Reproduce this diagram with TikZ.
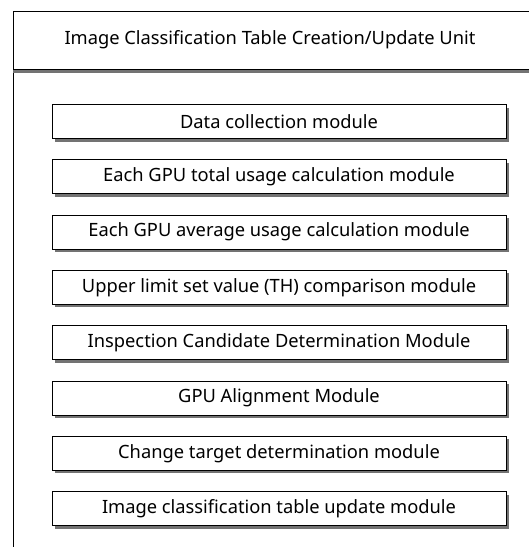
\documentclass[tikz,border=0pt]{standalone}
\usepackage{fontspec}
\setmainfont{Noto Sans}
\usetikzlibrary{positioning}
\begin{document}
\begin{tikzpicture}[x=1pt,y=-1pt,node distance =20.4pt]
  \tikzstyle{every node}=[font=\fontsize{18.3}{21}\selectfont]
  \tikzstyle{frame}=[draw,line width=1pt]
  \tikzstyle{module}=[draw,line width=0.9pt,fill=white,minimum width=454pt,minimum height=34pt,inner sep=0pt,
                      preaction={fill=black!55,transform canvas={shift={(3pt,-3pt)}}}]
  \useasboundingbox (0,0) rectangle (529,547);
  \clip (0,0) rectangle (529,547);
  \draw[frame] (13,11) rectangle (545,560);
  \fill[black!55] (13,69) rectangle (545,72.5);
  \draw[frame,line width=0.8pt] (13,69) -- (545,69);
  \node (unit) at (270,40) {Image Classification Table Creation/Update Unit};
  \node[module] (collect) at (279,121.5) {Data collection module};
  \node[module,below=of collect] (total) {Each GPU total usage calculation module};
  \node[module,below=of total] (average) {Each GPU average usage calculation module};
  \node[module,below=of average] (compare) {Upper limit set value (TH) comparison module};
  \node[module,below=of compare] (candidate) {Inspection Candidate Determination Module};
  \node[module,below=of candidate] (align) {GPU Alignment Module};
  \node[module,below=of align] (target) {Change target determination module};
  \node[module,below=of target] (update) {Image classification table update module};
\end{tikzpicture}
\end{document}
